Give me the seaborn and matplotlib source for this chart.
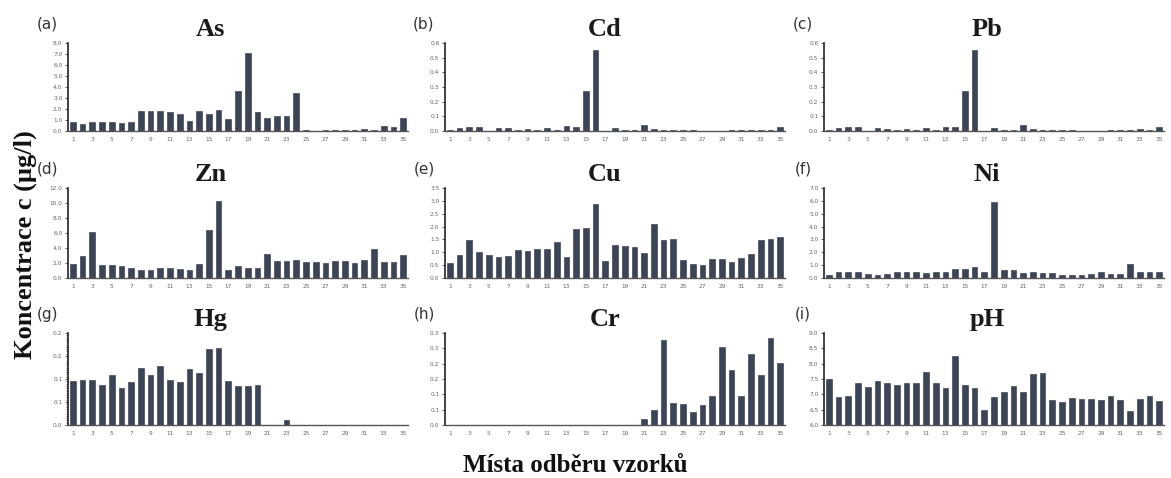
import matplotlib
matplotlib.use("Agg")
import matplotlib.pyplot as plt
import seaborn as sns
import pandas as pd
from matplotlib.ticker import MultipleLocator

sns.set_theme(style="white")
plt.rcParams['font.family'] = ['DejaVu Sans']

sites = [str(i) for i in range(1, 36)]
xtick_labels = [str(i) for i in range(1, 36, 2)]

As = [0.8, 0.6, 0.8, 0.8, 0.8, 0.7, 0.85, 1.85, 1.85, 1.85, 1.7, 1.5, 0.95, 1.8, 1.55, 1.9, 1.05,
      3.6, 7.05, 1.7, 1.2, 1.4, 1.35, 3.45, 0.05, 0.02, 0.1, 0.1, 0.05, 0.1, 0.2, 0.05, 0.5, 0.35, 1.2]
Cd = [0.01, 0.02, 0.03, 0.025, 0.0, 0.02, 0.02, 0.01, 0.015, 0.01, 0.02, 0.01, 0.035, 0.03, 0.27,
      0.555, 0.0, 0.02, 0.01, 0.01, 0.04, 0.015, 0.01, 0.01, 0.005, 0.005, 0.0, 0.0, 0.0, 0.01,
      0.005, 0.01, 0.01, 0.01, 0.025]
Pb = [0.01, 0.02, 0.025, 0.025, 0.0, 0.02, 0.015, 0.01, 0.015, 0.01, 0.02, 0.01, 0.03, 0.03, 0.27,
      0.555, 0.0, 0.02, 0.01, 0.01, 0.04, 0.015, 0.01, 0.01, 0.005, 0.005, 0.0, 0.0, 0.0, 0.01,
      0.005, 0.01, 0.015, 0.01, 0.025]
Zn = [1.9, 3.0, 6.1, 1.7, 1.7, 1.6, 1.3, 1.1, 1.1, 1.3, 1.3, 1.2, 1.1, 1.9, 6.4, 10.3, 1.1, 1.6,
      1.3, 1.35, 3.15, 2.25, 2.25, 2.4, 2.1, 2.1, 2.05, 2.3, 2.3, 2.0, 2.4, 3.85, 2.2, 2.1, 3.1]
Cu = [0.58, 0.88, 1.49, 1.01, 0.9, 0.82, 0.86, 1.1, 1.04, 1.12, 1.13, 1.39, 0.83, 1.91, 1.96, 2.88,
      0.68, 1.27, 1.25, 1.21, 0.96, 2.09, 1.47, 1.53, 0.71, 0.53, 0.52, 0.74, 0.75, 0.64, 0.79,
      0.92, 1.48, 1.5, 1.59]
Ni = [0.2, 0.43, 0.5, 0.43, 0.32, 0.25, 0.35, 0.48, 0.45, 0.45, 0.4, 0.5, 0.45, 0.67, 0.67, 0.88,
      0.45, 5.95, 0.6, 0.65, 0.38, 0.5, 0.38, 0.38, 0.27, 0.2, 0.2, 0.3, 0.43, 0.3, 0.3, 1.07,
      0.43, 0.45, 0.43]
Hg = [0.096, 0.098, 0.0985, 0.087, 0.109, 0.080, 0.094, 0.124, 0.109, 0.129, 0.097, 0.093, 0.122,
      0.113, 0.165, 0.168, 0.096, 0.084, 0.084, 0.087, 0.0, 0.0, 0.011, 0.0, 0.0, 0.0, 0.0, 0.0,
      0.0, 0.0, 0.0, 0.0, 0.0, 0.0, 0.0]
Cr = [0.0] * 20 + [0.019, 0.048, 0.276, 0.071, 0.070, 0.042, 0.066, 0.095, 0.254, 0.179, 0.095,
                   0.230, 0.164, 0.284, 0.201]
pH = [7.50, 6.92, 6.94, 7.36, 7.23, 7.42, 7.37, 7.32, 7.36, 7.37, 7.73, 7.36, 7.2, 8.24, 7.3, 7.2,
      6.5, 6.92, 7.07, 7.28, 7.07, 7.66, 7.68, 6.82, 6.74, 6.87, 6.84, 6.86, 6.8, 6.95, 6.82, 6.47,
      6.84, 6.93, 6.79]

titles = ["As", "Cd", "Pb", "Zn", "Cu", "Ni", "Hg", "Cr", "pH"]
letters = ["(a)", "(b)", "(c)", "(d)", "(e)", "(f)", "(g)", "(h)", "(i)"]
series = [As, Cd, Pb, Zn, Cu, Ni, Hg, Cr, pH]

yticks = [
    [0, 1, 2, 3, 4, 5, 6, 7, 8],
    [0, 0.1, 0.2, 0.3, 0.4, 0.5, 0.6],
    [0, 0.1, 0.2, 0.3, 0.4, 0.5, 0.6],
    [0, 2, 4, 6, 8, 10, 12],
    [0, 0.5, 1.0, 1.5, 2.0, 2.5, 3.0, 3.5],
    [0, 1, 2, 3, 4, 5, 6, 7],
    [0, 0.05, 0.10, 0.15, 0.20],
    [0, 0.05, 0.10, 0.15, 0.20, 0.25, 0.30],
    [6.0, 6.5, 7.0, 7.5, 8.0, 8.5, 9.0],
]
ytick_labels = [
    ["0.0", "1.0", "2.0", "3.0", "4.0", "5.0", "6.0", "7.0", "8.0"],
    ["0.0", "0.1", "0.2", "0.3", "0.4", "0.5", "0.6"],
    ["0.0", "0.1", "0.2", "0.3", "0.4", "0.5", "0.6"],
    ["0.0", "2.0", "4.0", "6.0", "8.0", "10.0", "12.0"],
    ["0.0", "0.5", "1.0", "1.5", "2.0", "2.5", "3.0", "3.5"],
    ["0.0", "1.0", "2.0", "3.0", "4.0", "5.0", "6.0", "7.0"],
    ["0.0", "0.1", "0.1", "0.2", "0.2"],
    ["0.0", "0.1", "0.1", "0.2", "0.2", "0.3", "0.3"],
    ["6.0", "6.5", "7.0", "7.5", "8.0", "8.5", "9.0"],
]

W, H = 1171, 478
fig = plt.figure(figsize=(W / 100, H / 100), dpi=100)
fig.patch.set_facecolor("white")

col_left = [68, 445, 824]
col_w = 340
row_top = [43, 188, 333]
row_bot = [131, 278, 425]
title_x = [0.42, 0.47, 0.48]

bar_color = "#3c4558"

for k in range(9):
    r, c = divmod(k, 3)
    left = col_left[c] / W
    bottom = 1 - row_bot[r] / H
    height = (row_bot[r] - row_top[r]) / H
    ax = fig.add_axes([left, bottom, col_w / W, height])
    df = pd.DataFrame({"site": sites, "value": series[k]})
    sns.barplot(data=df, x="site", y="value", ax=ax, color=bar_color, saturation=1,
                width=0.6, edgecolor="#2a3040", linewidth=0.4)
    ax.set_xlim(-0.5, 34.5)
    ax.set_ylim(yticks[k][0], yticks[k][-1])
    ax.set_yticks(yticks[k])
    ax.set_yticklabels(ytick_labels[k])
    ax.set_xticks(range(0, 35, 2))
    ax.set_xticklabels(xtick_labels)
    ax.set_xlabel("")
    ax.set_ylabel("")
    ax.tick_params(axis="both", labelsize=4.2, labelcolor="#666666", length=2, width=0.6,
                   color="#444444", pad=2)
    ax.tick_params(axis="x", length=0, pad=4)
    ax.tick_params(axis="y", left=True, direction="out")
    if titles[k] == "Hg":
        ax.yaxis.set_minor_locator(MultipleLocator(0.005))
        ax.tick_params(axis="y", which="minor", left=True, length=1.5, width=0.5, color="#444444")
    for s in ["top", "right"]:
        ax.spines[s].set_visible(False)
    ax.spines["left"].set_color("#222222")
    ax.spines["left"].set_linewidth(1.2)
    ax.spines["bottom"].set_color("#555555")
    ax.spines["bottom"].set_linewidth(1.0)
    ax.set_facecolor("white")
    ax.text(title_x[c], 1.02, titles[k], transform=ax.transAxes, ha="center", va="bottom",
            fontsize=19, fontweight="bold", family=["Liberation Serif", "DejaVu Serif"],
            color="#1a1a1a")
    fig.text((col_left[c] - 21) / W, 1 - (row_top[r] - 19) / H, letters[k], ha="center",
             va="center", fontsize=11, color="#333333")

fig.text(25 / W, 1 - 245 / H, "Koncentrace c (µg/l)", rotation=90, ha="center", va="center",
         fontsize=19, fontweight="bold", family=["Liberation Serif", "DejaVu Serif"],
         color="#111111")
fig.text(575 / W, 1 - 466 / H, "Místa odběru vzorků", ha="center", va="center",
         fontsize=18, fontweight="bold", family=["Liberation Serif", "DejaVu Serif"],
         color="#111111")

fig.savefig("out.png", dpi=100, facecolor="white")
